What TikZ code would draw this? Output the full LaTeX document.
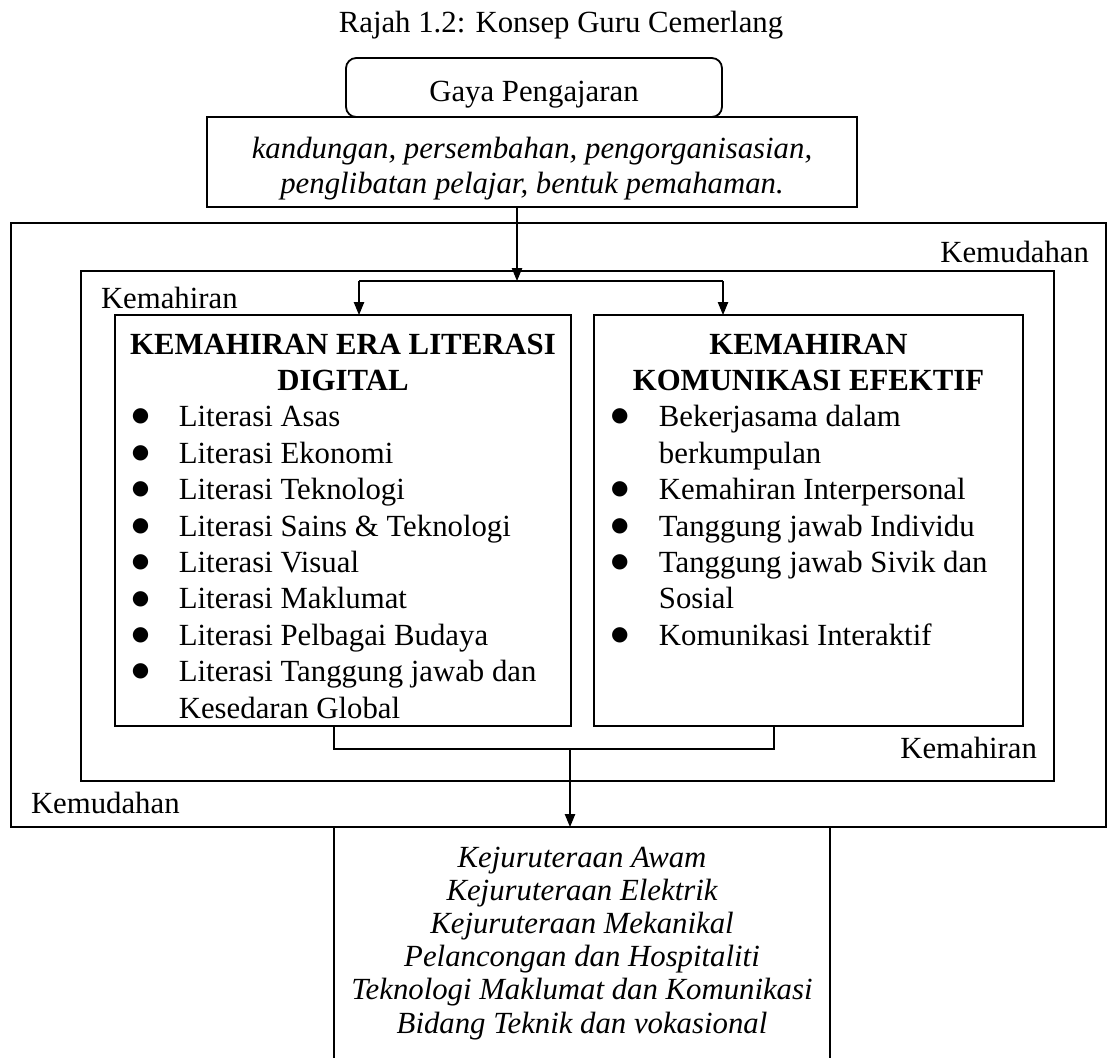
\documentclass[tikz,border=0pt]{standalone}
\usepackage{fontspec}
\setmainfont{Liberation Serif}
\newfontfamily\simbol{DejaVu Sans}
\usepackage{array}
\usepackage{tikz}
\usetikzlibrary{positioning}
\usetikzlibrary{arrows.meta}
\usetikzlibrary{fit}
\newcommand{\butir}{\hspace*{10.1pt}\makebox[0pt]{\raisebox{1.9pt}{\simbol\fontsize{7.8}{9}\selectfont ●}}}

\begin{document}
\begin{tikzpicture}[x=0.39pt,y=-0.39pt,every node/.style={inner sep=0,outer sep=0,font=\fontsize{12}{14.2}\selectfont},kotak/.style={draw,line width=0.7pt},garis/.style={line width=0.45pt},panah/.style={garis,-{Triangle[length=5pt,width=4pt]}}]
	\useasboundingbox (0,0) rectangle (1109,1057);
	\clip (0,0) rectangle (1109,1057);
	\node[anchor=base] (judul) at (561,32) {Rajah 1.2: Konsep Guru Cemerlang};
	% kotak atas
	\node[kotak,rounded corners=4pt,fit={(346,58) (722,117)}] (gaya) {};
	\node[anchor=base] (gayateks) at (534,101) {Gaya Pengajaran};
	\node[kotak,fit={(207,117) (857,207)}] (isi) {};
	\node[anchor=north,font=\itshape\fontsize{12}{13.65}\selectfont] (isiteks) at (532,134) {\begin{tabular}{@{}c@{}}kandungan, persembahan, pengorganisasian,\\penglibatan pelajar, bentuk pemahaman.\end{tabular}};
	% bingkai
	\node[kotak,fit={(11,223) (1106,827)}] (luar) {};
	\node[kotak,fit={(81,271) (1054,781)}] (dalam) {};
	\node[anchor=base east] (mudah1) at (1089,262) {Kemudahan};
	\node[anchor=base west] (mahir1) at (101,308) {Kemahiran};
	\node[anchor=base east] (mahir2) at (1037,758) {Kemahiran};
	\node[anchor=base west] (mudah2) at (31,813) {Kemudahan};
	% dua lajur
	\node[kotak,fit={(115,315) (571,726)}] (kiri) {};
	\node[kotak,fit={(594,315) (1023,726)}] (kanan) {};
	\node[anchor=north] (kiriteks) at (343,328.5) {\begin{tabular}{@{}p{25pt}@{}p{152.9pt}@{}}
		\multicolumn{2}{c}{\textbf{KEMAHIRAN ERA LITERASI}}\\
		\multicolumn{2}{c}{\textbf{DIGITAL}}\\
		\butir & Literasi Asas\\
		\butir & Literasi Ekonomi\\
		\butir & Literasi Teknologi\\
		\butir & Literasi Sains \& Teknologi\\
		\butir & Literasi Visual\\
		\butir & Literasi Maklumat\\
		\butir & Literasi Pelbagai Budaya\\
		\butir & Literasi Tanggung jawab dan\\
		& Kesedaran Global
	\end{tabular}};
	\node[anchor=north] (kananteks) at (808.5,328.5) {\begin{tabular}{@{}p{25.35pt}@{}p{142pt}@{}}
		\multicolumn{2}{c}{\textbf{KEMAHIRAN}}\\
		\multicolumn{2}{c}{\textbf{KOMUNIKASI EFEKTIF}}\\
		\butir & Bekerjasama dalam\\
		& berkumpulan\\
		\butir & Kemahiran Interpersonal\\
		\butir & Tanggung jawab Individu\\
		\butir & Tanggung jawab Sivik dan\\
		& Sosial\\
		\butir & Komunikasi Interaktif
	\end{tabular}};
	% kotak bawah
	\node[kotak,fit={(334,827) (830,1080)}] (bidang) {};
	\node[anchor=north,font=\itshape\fontsize{12}{12.95}\selectfont] (bidangteks) at (582,843.8) {\begin{tabular}{@{}c@{}}Kejuruteraan Awam\\Kejuruteraan Elektrik\\Kejuruteraan Mekanikal\\Pelancongan dan Hospitaliti\\Teknologi Maklumat dan Komunikasi\\Bidang Teknik dan vokasional\end{tabular}};
	% penyambung
	\coordinate (cabang) at (517,281);
	\coordinate (ck) at (359,281);
	\coordinate (cn) at (723,281);
	\coordinate (gk) at (334,749);
	\coordinate (gn) at (774,749);
	\coordinate (gt) at (570,749);
	\draw[garis] (ck) -- (cn);
	\draw[garis] (kiri.south -| gk) -- (gk) -- (gn) -- (kanan.south -| gn);
	\path[panah]
		(isi.south -| cabang) edge (cabang)
		(ck) edge (ck |- kiri.north)
		(cn) edge (cn |- kanan.north)
		(gt) edge (gt |- bidang.north);
\end{tikzpicture}
\end{document}
